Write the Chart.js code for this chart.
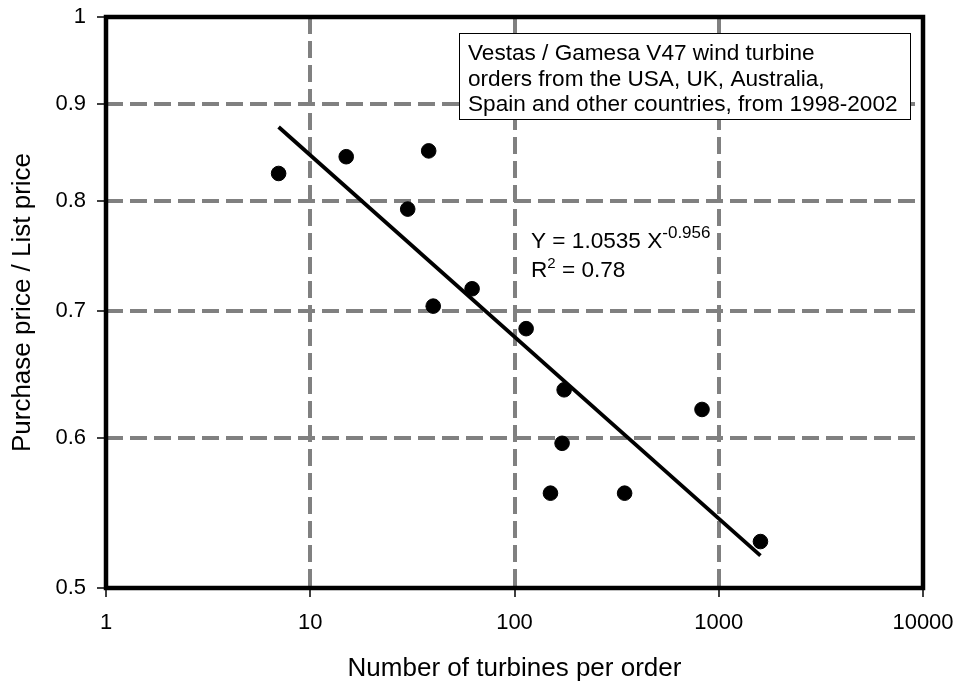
<!DOCTYPE html>
<html><head><meta charset="utf-8">
<script src="https://cdn.jsdelivr.net/npm/chart.js@4/dist/chart.umd.min.js"></script>
<style>html,body{margin:0;padding:0;background:#fff}#wrap{width:956px;height:684px;position:relative}</style>
</head><body><div id="wrap"><canvas id="c" width="956" height="684"></canvas></div>
<script>
// ---- data ----
const orderSizes  = [7, 15, 38, 30, 40, 62, 114, 175, 171, 150, 346, 828, 1600];
const priceRatios = [0.827, 0.844, 0.850, 0.792, 0.704, 0.719, 0.685, 0.636, 0.596, 0.561, 0.561, 0.621, 0.529];
const trendX = [7, 1600];
const trendY = [0.875, 0.520];
const xTickValues = [1, 10, 100, 1000, 10000];
const xTickLabels = ['1', '10', '100', '1000', '10000'];
const yTickValues = [0.5, 0.6, 0.7, 0.8, 0.9, 1];
const yTickLabels = ['0.5', '0.6', '0.7', '0.8', '0.9', '1'];
const noteLines = ['Vestas / Gamesa V47 wind turbine', 'orders from the USA, UK, Australia,', 'Spain and other countries, from 1998-2002'];
const eqMain = 'Y = 1.0535 X';
const eqExp = '-0.956';
const r2Main = 'R';
const r2Sup = '2';
const r2Rest = ' = 0.78';
const xTitle = 'Number of turbines per order';
const yTitle = 'Purchase price / List price';

const FONT = '"Liberation Sans", Arial, sans-serif';

const scatterData = orderSizes.map((x, i) => ({x: x, y: priceRatios[i]}));
const trendData = trendX.map((x, i) => ({x: x, y: trendY[i]}));

const decorPlugin = {
  id: 'decor',
  afterDraw(chart) {
    const ctx = chart.ctx;
    const a = chart.chartArea;
    ctx.save();
    // annotation box
    const bx = 459, by = 33, bw = 451, bh = 86;
    ctx.fillStyle = '#fff';
    ctx.fillRect(bx, by, bw, bh);
    ctx.strokeStyle = '#000';
    ctx.lineWidth = 1;
    ctx.strokeRect(bx + 0.5, by + 0.5, bw, bh);
    ctx.fillStyle = '#000';
    ctx.font = '22.6px ' + FONT;
    ctx.textBaseline = 'alphabetic';
    ctx.textAlign = 'left';
    noteLines.forEach((t, i) => ctx.fillText(t, 468, 60 + i * 25.5));
    // equation
    ctx.font = '22.6px ' + FONT;
    ctx.fillText(eqMain, 531, 248);
    let w = ctx.measureText(eqMain).width;
    ctx.font = '17px ' + FONT;
    ctx.fillText(eqExp, 531 + w, 238);
    ctx.font = '22.6px ' + FONT;
    ctx.fillText(r2Main, 531, 277);
    w = ctx.measureText(r2Main).width;
    ctx.font = '15px ' + FONT;
    ctx.fillText(r2Sup, 531 + w, 268);
    const w2 = ctx.measureText(r2Sup).width;
    ctx.font = '22.6px ' + FONT;
    ctx.fillText(r2Rest, 531 + w + w2, 277);
    // plot frame
    ctx.strokeStyle = '#000';
    ctx.lineWidth = 4.5;
    ctx.strokeRect(a.left, a.top, a.right - a.left, a.bottom - a.top);
    ctx.restore();
  }
};

new Chart(document.getElementById('c'), {
  type: 'scatter',
  data: {
    datasets: [
      {
        label: 'Orders',
        data: scatterData,
        backgroundColor: '#000',
        borderColor: '#000',
        pointRadius: 7.3,
        pointHoverRadius: 7.3,
        order: 1
      },
      {
        type: 'line',
        label: 'Trend',
        data: trendData,
        borderColor: '#000',
        borderWidth: 3.8,
        pointRadius: 0,
        fill: false,
        order: 2
      }
    ]
  },
  options: {
    responsive: false,
    animation: false,
    devicePixelRatio: 1,
    layout: {padding: {left: 0, right: 33, top: 17, bottom: 0}},
    plugins: {legend: {display: false}, tooltip: {enabled: false}},
    scales: {
      x: {
        type: 'logarithmic',
        min: 1, max: 10000,
        afterBuildTicks: s => { s.ticks = xTickValues.map(v => ({value: v})); },
        afterFit: s => { s.height = 96; s.paddingLeft = 0; s.paddingRight = 0; },
        ticks: {
          autoSkip: false, maxRotation: 0, padding: 13,
          color: '#000', font: {family: FONT, size: 22},
          callback: (v) => { const i = xTickValues.indexOf(v); return i >= 0 ? xTickLabels[i] : ''; }
        },
        grid: {color: '#808080', lineWidth: 4, drawTicks: true, tickLength: 9, tickColor: '#000', tickWidth: 1.5},
        border: {display: false, dash: [17, 7]},
        title: {display: true, text: xTitle, color: '#000', font: {family: FONT, size: 26}, padding: {top: 0, bottom: 0}}
      },
      y: {
        type: 'logarithmic',
        min: 0.5, max: 1,
        afterBuildTicks: s => { s.ticks = yTickValues.map(v => ({value: v})); },
        afterFit: s => { s.width = 106; s.paddingTop = 0; s.paddingBottom = 0; },
        ticks: {
          autoSkip: false, padding: 11,
          color: '#000', font: {family: FONT, size: 22},
          callback: (v) => { const i = yTickValues.indexOf(v); return i >= 0 ? yTickLabels[i] : ''; }
        },
        grid: {color: '#808080', lineWidth: 4, drawTicks: true, tickLength: 9, tickColor: '#000', tickWidth: 1.5},
        border: {display: false, dash: [17, 7]},
        title: {display: true, text: yTitle, color: '#000', font: {family: FONT, size: 26}, padding: {top: 7, bottom: 0}}
      }
    }
  },
  plugins: [decorPlugin]
});
</script>
</body></html>
